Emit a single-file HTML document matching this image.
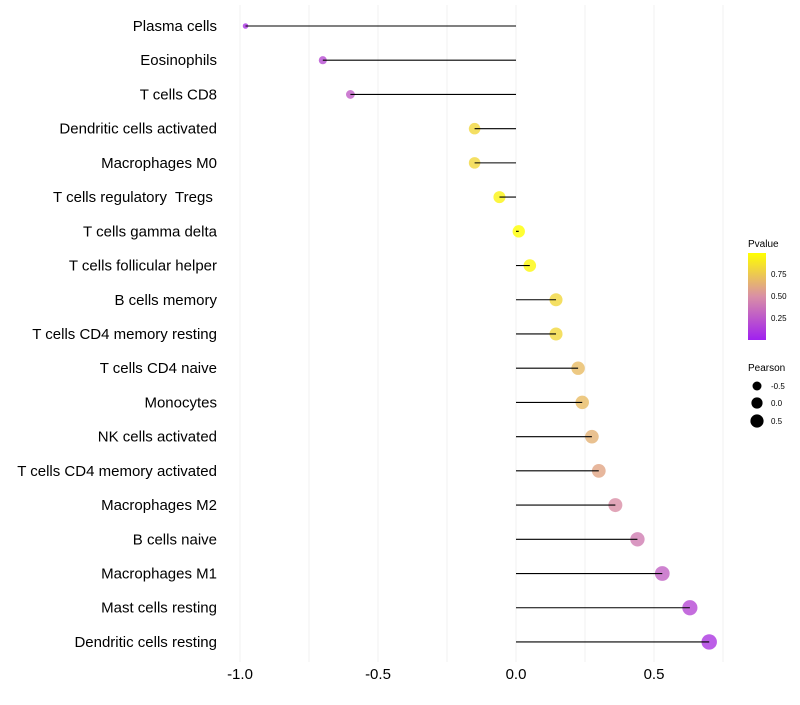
<!DOCTYPE html>
<html><head><meta charset="utf-8"><style>
body{margin:0;background:#fff;font-family:"Liberation Sans",sans-serif}
text{white-space:pre}
</style></head><body>
<svg id="chart" width="800" height="700" xmlns="http://www.w3.org/2000/svg">
<g id="grid"></g><g id="marks"></g><g id="labels"></g>
<g id="legend">
<defs><linearGradient id="pg" x1="0" y1="1" x2="0" y2="0">
<stop offset="0" stop-color="#A020F0"/><stop offset="0.5" stop-color="#D98FA6"/><stop offset="1" stop-color="#FFFF00"/></linearGradient></defs>
<text x="748" y="247" font-size="10">Pvalue</text>
<rect x="748" y="253" width="18" height="87" fill="url(#pg)"/>
<text x="771" y="277" font-size="8">0.75</text>
<text x="771" y="299" font-size="8">0.50</text>
<text x="771" y="321" font-size="8">0.25</text>
<text x="748" y="371" font-size="10">Pearson</text>
<circle cx="757" cy="386" r="4.5" fill="#000"/>
<circle cx="757" cy="403" r="5.6" fill="#000"/>
<circle cx="757" cy="421" r="6.6" fill="#000"/>
<text x="771" y="389" font-size="8">-0.5</text>
<text x="771" y="406" font-size="8">0.0</text>
<text x="771" y="424" font-size="8">0.5</text>
</g>
</svg>
<script>
const categories=["Plasma cells","Eosinophils","T cells CD8","Dendritic cells activated","Macrophages M0","T cells regulatory  Tregs ","T cells gamma delta","T cells follicular helper","B cells memory","T cells CD4 memory resting","T cells CD4 naive","Monocytes","NK cells activated","T cells CD4 memory activated","Macrophages M2","B cells naive","Macrophages M1","Mast cells resting","Dendritic cells resting"];
const pearson=[-0.98,-0.70,-0.60,-0.15,-0.15,-0.06,0.01,0.05,0.145,0.145,0.225,0.24,0.275,0.30,0.36,0.44,0.53,0.63,0.70];
const pvalues=[0.08,0.2,0.28,0.82,0.82,0.95,1.0,0.97,0.82,0.82,0.7,0.7,0.65,0.6,0.5,0.42,0.3,0.18,0.1];
const ticks=[-1.0,-0.5,0.0,0.5];
const tickLabels=["-1.0","-0.5","0.0","0.5"];
const NS="http://www.w3.org/2000/svg";
const xs=v=>516+v*276;
const ys=i=>26+i*34.22;
function col(p){const s=[[0,[160,32,240]],[0.5,[217,143,166]],[1,[255,255,0]]];let a=s[0],b=s[1];if(p>0.5){a=s[1];b=s[2];}const t=(p-a[0])/(b[0]-a[0]);const c=a[1].map((x,k)=>Math.round(x+(b[1][k]-x)*t));return `rgb(${c.join(',')})`;}
function mk(t,at,parent){const e=document.createElementNS(NS,t);for(const k in at)e.setAttribute(k,at[k]);document.getElementById(parent).appendChild(e);return e;}
for(let v=-1;v<=0.751;v+=0.25){const g=mk('line',{x1:xs(v),x2:xs(v),y1:5,y2:662,stroke:'#f0f0f0','stroke-width':1},'grid');

}
ticks.forEach((t,i)=>{const e=mk('text',{x:xs(t),y:679,'font-size':15,'text-anchor':'middle',fill:'#000'},'labels');e.textContent=tickLabels[i];

});
categories.forEach((c,i)=>{const y=ys(i);
const e=mk('text',{x:217,y:y+5,'font-size':15,'text-anchor':'end',fill:'#000'},'labels');e.textContent=c;


const r=Math.sqrt(Math.max(1,38+31*pearson[i]));
const p=mk('circle',{cx:xs(pearson[i]),cy:y,r:r,fill:col(pvalues[i]),'fill-opacity':0.8},'marks');


const l=mk('line',{x1:xs(0),x2:xs(pearson[i]),y1:y,y2:y,stroke:'#000','stroke-width':1.1},'marks');

});
</script>
</body></html>
